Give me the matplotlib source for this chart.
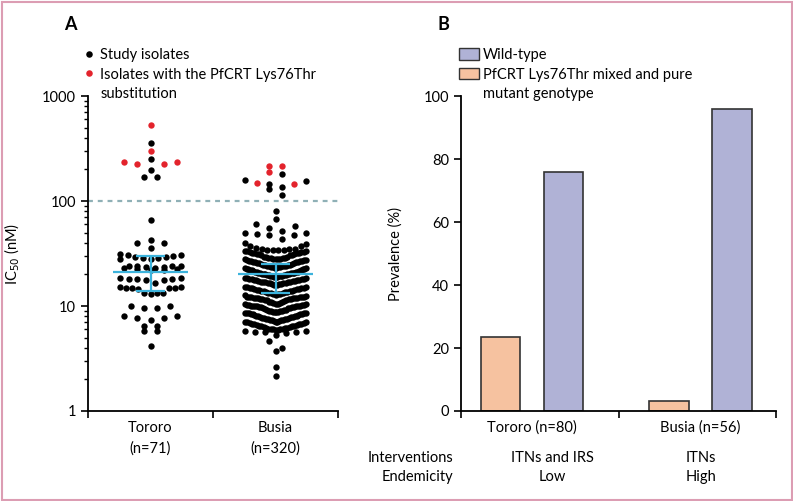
import numpy as np
import matplotlib
matplotlib.use("Agg")
import matplotlib.pyplot as plt
from matplotlib import font_manager
from matplotlib.lines import Line2D
from matplotlib.patches import Patch, Rectangle
from matplotlib.ticker import FixedLocator, FixedFormatter, LogLocator, NullFormatter

W, H = 793, 501

# ---- panel A: IC50 per isolate (nM) ----
sites = ["Tororo\n(n=71)", "Busia\n(n=320)"]

tororo_k76t = [530, 297, 233, 225, 225, 233]
tororo_other = [
    356, 249, 198, 168, 168,
    65.5, 42.4, 39.5, 39.5, 35.4,
    27.8, 28.1, 28.5, 28.9, 29.3, 29.6, 30.0, 30.3, 30.7, 31.0,
    21.8, 22.0, 22.3, 22.6, 22.8, 23.1, 23.3, 23.6, 23.8, 24.0, 24.2, 24.3,
    16.6, 17.6, 17.8, 18.0, 18.0, 18.2, 18.3, 18.5,
    14.6, 14.7, 14.8, 14.9, 15.0, 15.1, 15.2,
    13.1, 13.2, 13.3, 13.4,
    10.1, 10.1, 9.6, 9.6, 8.0, 8.0, 7.7, 7.7, 7.3, 6.5, 6.5, 5.75, 5.75, 4.15,
]

busia_k76t = [214, 215, 190, 149, 144]
busia_other = [
    181, 160, 154, 144, 137, 131, 113,
    79.5, 68, 60, 57.5, 55.8, 51.9, 49.2, 48.8, 47.4, 47.8, 49.2, 43, 40, 39, 37, 37,
    30.4, 30.6, 30.9, 31.0, 31.2, 31.5, 31.7, 31.9, 32.0, 32.3, 32.5, 32.8,
    33.0, 33.1, 33.4, 33.6, 33.9, 34.0, 34.3, 34.5, 34.8, 35.0, 35.2, 35.6,
    25.6, 25.8, 25.9, 26.1, 26.2, 26.4, 26.5, 26.7, 26.9, 27.0, 27.1, 27.3, 27.5,
    27.6, 27.8, 27.9, 28.0, 28.2, 28.3, 28.5, 28.6, 28.8, 28.9, 29.1, 29.3, 29.6,
    21.9, 22.0, 22.1, 22.3, 22.4, 22.5, 22.7, 22.8, 22.9, 23.0, 23.2, 23.3, 23.4,
    23.5, 23.7, 23.8, 23.9, 24.0, 24.1, 24.3, 24.4, 24.5, 24.7, 24.8, 25.0, 25.2,
    18.9, 19.0, 19.0, 19.1, 19.2, 19.3, 19.4, 19.5, 19.6, 19.7, 19.8, 19.9, 20.0, 20.0,
    20.1, 20.2, 20.3, 20.4, 20.5, 20.6, 20.7, 20.8, 20.9, 21.0, 21.1, 21.2, 21.4, 21.6,
    15.9, 16.0, 16.1, 16.2, 16.3, 16.4, 16.5, 16.6, 16.7, 16.8, 16.9, 17.0, 17.0, 17.1,
    17.2, 17.3, 17.4, 17.5, 17.6, 17.7, 17.8, 17.9, 18.0, 18.1, 18.2, 18.3, 18.4, 18.6,
    12.7, 12.8, 12.9, 13.0, 13.1, 13.2, 13.3, 13.4, 13.5, 13.6, 13.7, 13.8, 13.9, 14.0,
    14.0, 14.1, 14.2, 14.3, 14.4, 14.5, 14.6, 14.7, 14.8, 14.9, 15.0, 15.1, 15.2, 15.3,
    11.4, 11.5, 11.5, 11.6, 11.6, 11.7, 11.7, 11.8, 11.8, 11.9,
    11.9, 12.0, 12.0, 12.1, 12.1, 12.2, 12.2, 12.3, 12.3, 12.4,
    9.5, 9.6, 9.6, 9.7, 9.7, 9.8, 9.8, 9.9, 9.9, 10.0, 10.0, 10.0, 10.1, 10.1,
    10.2, 10.2, 10.3, 10.3, 10.4, 10.4, 10.5, 10.5, 10.6, 10.7, 10.8, 10.9, 11.0, 11.1,
    7.8, 7.9, 7.9, 8.0, 8.0, 8.1, 8.1, 8.2, 8.2, 8.3, 8.3, 8.4, 8.4, 8.5, 8.5,
    8.5, 8.6, 8.6, 8.7, 8.7, 8.8, 8.8, 8.9, 8.9, 9.0, 9.0, 9.1, 9.1, 9.2, 9.3,
    6.5, 6.5, 6.6, 6.6, 6.7, 6.7, 6.8, 6.8, 6.9, 6.9, 7.0, 7.0, 7.0, 7.1,
    7.1, 7.2, 7.2, 7.3, 7.3, 7.4, 7.4, 7.5, 7.5, 7.6, 7.6, 7.7, 7.7, 7.7,
    5.3, 5.5, 5.6, 5.7, 5.7, 5.8, 5.8, 5.9, 5.9, 6.0, 6.0,
    6.0, 6.1, 6.1, 6.2, 6.2, 6.2, 6.3, 6.3, 6.4, 6.4,
    4.6, 4.0, 3.7, 2.6, 2.15,
]

ic50_median = [21.0, 20.2]
ic50_q1 = [14.0, 13.3]
ic50_q3 = [29.9, 25.0]
cutoff = 100

# ---- panel B: genotype prevalence (%) ----
groups = ["Tororo (n=80)", "Busia (n=56)"]
wild_type = [75.8, 95.9]
mutant = [23.4, 3.1]
interventions = ["ITNs and IRS", "ITNs"]
endemicity = ["Low", "High"]

# font
installed = {f.name for f in font_manager.fontManager.ttflist}
for fam in ["Liberation Sans Narrow", "Lato", "DejaVu Sans"]:
    if fam in installed:
        break
plt.rcParams["font.family"] = fam
plt.rcParams["font.size"] = 10.5


def prism_offsets(values, step=0.105, half_width=0.245, bin_dex=0.085):
    # Prism-style scatter: values in the same log bin are spread sideways,
    # lowest value in the middle, so dense bins curve up at the sides
    logv = np.log10(values)
    bins = np.floor(logv / bin_dex)
    offsets = np.zeros(len(values))
    for b in np.unique(bins):
        idx = np.where(bins == b)[0]
        idx = idx[np.argsort(logv[idx], kind="stable")]
        n = len(idx)
        gap = step if n < 2 else min(step, 2 * half_width / (n - 1))
        pos = np.arange(n) - (n - 1) / 2
        slots = sorted(range(n), key=lambda k: (abs(pos[k]), -pos[k]))
        for v_i, s in zip(idx, slots):
            offsets[v_i] = pos[s] * gap
    return offsets


def px(x, y):
    return x / W, 1 - y / H


fig = plt.figure(figsize=(W / 100, H / 100), dpi=100)

blue = "#3cb3dc"
red = "#e3232c"

# ================= panel A =================
axA = fig.add_axes([88 / W, 1 - 411 / H, 250 / W, 315 / H])
for i, (k76t, other) in enumerate([(tororo_k76t, tororo_other), (busia_k76t, busia_other)]):
    vals = np.array(other + k76t, dtype=float)
    is_mut = np.r_[np.zeros(len(other), bool), np.ones(len(k76t), bool)]
    xs = i + 1 + prism_offsets(vals)
    axA.scatter(xs[~is_mut], vals[~is_mut], s=21, color="black", lw=0, zorder=3)
    axA.scatter(xs[is_mut], vals[is_mut], s=21, color=red, lw=0, zorder=3)
    x = i + 1
    axA.hlines(ic50_median[i], x - 0.3, x + 0.3, color=blue, lw=1.6, zorder=4)
    axA.vlines(x, ic50_q1[i], ic50_q3[i], color=blue, lw=1.6, zorder=4)
    axA.hlines([ic50_q1[i], ic50_q3[i]], x - 0.115, x + 0.115, color=blue, lw=1.6, zorder=4)

axA.axhline(cutoff, color="#8fb0b6", ls=(0, (2.2, 2.2)), lw=1.6, zorder=1)
axA.set_yscale("log")
axA.set_ylim(1, 1000)
axA.set_xlim(0.5, 2.5)
axA.yaxis.set_major_locator(FixedLocator([1, 10, 100, 1000]))
axA.yaxis.set_major_formatter(FixedFormatter(["1", "10", "100", "1000"]))
axA.yaxis.set_minor_locator(LogLocator(subs=np.arange(2, 10)))
axA.yaxis.set_minor_formatter(NullFormatter())
axA.set_xticks([0.5, 1.5, 2.5])
axA.set_xticklabels([])
axA.set_xticks([1, 2], minor=True)
axA.set_xticklabels(sites, minor=True)
axA.set_ylabel("IC$_{50}$ (nM)")
axA.yaxis.set_label_coords(-0.265, 0.5)

blank = Line2D([], [], ls="none")
axA.legend(
    [Line2D([], [], ls="none", marker="o", ms=4.7, mfc="black", mec="none"),
     Line2D([], [], ls="none", marker="o", ms=4.7, mfc=red, mec="none"),
     blank],
    ["Study isolates", "Isolates with the PfCRT Lys76Thr", "substitution"],
    loc="upper left", bbox_to_anchor=px(82, 48), bbox_transform=fig.transFigure,
    frameon=False, borderpad=0, borderaxespad=0, handlelength=1.0,
    handletextpad=0.25, labelspacing=0.38)

# ================= panel B =================
axB = fig.add_axes([461 / W, 1 - 411 / H, 315 / W, 315 / H])
group_x = np.array([0.95, 2.02])
axB.bar(group_x - 0.2, mutant, width=0.25, color="#f6c2a0", edgecolor="#333333", lw=1.2, zorder=2)
axB.bar(group_x + 0.2, wild_type, width=0.25, color="#b0b2d6", edgecolor="#333333", lw=1.2, zorder=2)
axB.set_xlim(0.5, 2.5)
axB.set_ylim(0, 100)
axB.set_yticks([0, 20, 40, 60, 80, 100])
axB.set_xticks([0.5, 1.5, 2.5])
axB.set_xticklabels([])
axB.set_xticks(group_x, minor=True)
axB.set_xticklabels(groups, minor=True)
axB.set_ylabel("Prevalence (%)")
axB.yaxis.set_label_coords(-0.185, 0.5)

axB.legend(
    [Patch(facecolor="#b0b2d6", edgecolor="#333333"),
     Patch(facecolor="#f6c2a0", edgecolor="#333333"),
     Patch(facecolor="none", edgecolor="none")],
    ["Wild-type", "PfCRT Lys76Thr mixed and pure", "mutant genotype"],
    loc="upper left", bbox_to_anchor=px(459, 48), bbox_transform=fig.transFigure,
    frameon=False, borderpad=0, borderaxespad=0, handlelength=1.35,
    handleheight=0.85, handletextpad=0.3, labelspacing=0.38)

for ax in (axA, axB):
    for side in ("top", "right"):
        ax.spines[side].set_visible(False)
    for side in ("left", "bottom"):
        ax.spines[side].set_linewidth(1.3)
    ax.tick_params(which="major", direction="out", length=5, width=1.2, labelsize=10.5)
    ax.tick_params(which="minor", axis="y", direction="out", length=3, width=1.0)
    ax.tick_params(which="minor", axis="x", length=0, pad=7, labelsize=10.5)
    for lbl in ax.get_xticklabels(minor=True):
        lbl.set_linespacing(1.55)

# table rows under panel B
fig.text(*px(453, 458), "Interventions", ha="right", va="center")
fig.text(*px(453, 477), "Endemicity", ha="right", va="center")
for xc, itv, end in zip([552.7, 701], interventions, endemicity):
    fig.text(*px(xc, 458), itv, ha="center", va="center")
    fig.text(*px(xc, 477), end, ha="center", va="center")

fig.text(*px(70, 25), "A", ha="center", va="center", fontsize=13, fontweight="bold")
fig.text(*px(443, 25), "B", ha="center", va="center", fontsize=13, fontweight="bold")

fig.add_artist(Rectangle((1.5 / W, 1.5 / H), (W - 3) / W, (H - 3) / H,
                         transform=fig.transFigure, fill=False, ec="#dc9db3", lw=1.5))

fig.savefig("out.png", dpi=100)
